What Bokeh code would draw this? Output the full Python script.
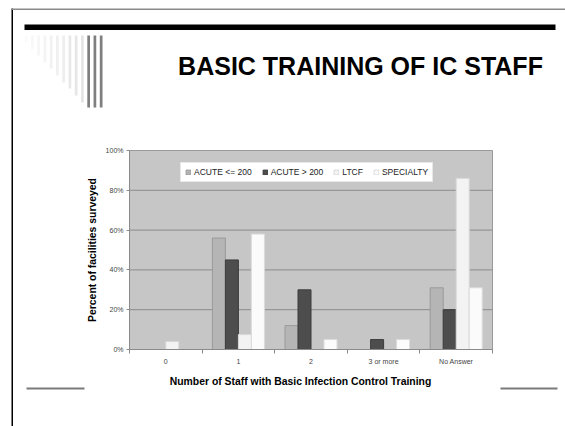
from bokeh.plotting import figure
from bokeh.models import (Range1d, FixedTicker, Legend, LegendItem, ColumnDataSource,
                          Label, PrintfTickFormatter)
from bokeh.transform import dodge
from bokeh.embed import file_html
from bokeh.resources import INLINE

# ---------------- data ----------------
categories = ["0", "1", "2", "3 or more", "No Answer"]
series_names = ["ACUTE <= 200", "ACUTE > 200", "LTCF", "SPECIALTY"]
acute_le_200 = [0, 56, 12, 0, 31]
acute_gt_200 = [0, 45, 30, 5, 20]
ltcf = [4, 7.5, 0, 0, 86]
specialty = [0, 58, 5, 5, 31]
y_ticks = [0, 20, 40, 60, 80, 100]

title_text = "BASIC TRAINING OF IC STAFF"
x_title = "Number of Staff with Basic Infection Control Training"
y_title = "Percent of facilities surveyed"

# ---------------- styles / layout ----------------
FONT = "Liberation Sans"
fills = ["#b5b5b5", "#4d4d4d", "#f3f3f3", "#fbfbfb"]
lines = ["#9a9a9a", "#3c3c3c", "#d8d8d8", "#dcdcdc"]
BAR_W = 0.179
offsets = [-1.5 * BAR_W, -0.5 * BAR_W, 0.5 * BAR_W, 1.5 * BAR_W]

W, H = 565, 426
# plot-area box on the canvas (pixels)
PL, PR, PT, PB = 129, 492, 150, 349
Y_MAX = 100

n = len(categories)
ux = (PR - PL) / n          # px per category
uy = (PB - PT) / Y_MAX      # px per percent
x_range = Range1d(-PL / ux, (W - PL) / ux)
y_range = Range1d(-(H - PB) / uy, Y_MAX + PT / uy)

p = figure(width=W, height=H, x_range=x_range, y_range=y_range,
           output_backend="svg", toolbar_location=None, min_border=0)
p.extra_x_ranges = {"px": Range1d(0, W)}
p.extra_y_ranges = {"px": Range1d(H, 0)}
p.background_fill_color = "white"
p.border_fill_color = "white"
p.outline_line_color = None
p.grid.visible = False


def deco(l, r, t, b, color):
    p.quad(left=l, right=r, top=t, bottom=b, fill_color=color, line_color=None,
           x_range_name="px", y_range_name="px")


# slide decorations (pixel positions)
deco([11], [12.5], [8], [H], "black")            # left border
deco([11], [W], [8], [9.5], "#8a8a8a")           # top border
deco([24], [555], [24], [29.5], "black")         # thick rule
stripe_bottoms = [42, 49, 55, 62, 68, 75, 82, 88, 95, 102, 107, 107, 107]
stripe_colors = ["#fafafa", "#f8f8f8", "#f6f6f6", "#f4f4f4", "#f2f2f2", "#f0f0f0",
                 "#eeeeee", "#e8e8e8", "#e6e6e6", "#e4e4e4", "#7f7f7f", "#7f7f7f", "#7f7f7f"]
s_left = [24.3 + 6.25 * i for i in range(len(stripe_bottoms))]
deco(s_left, [x + 2.7 for x in s_left], [35] * len(s_left), stripe_bottoms, stripe_colors)
deco([26, 500], [84, 557], [387, 387], [389, 389], "#7a7a7a")   # bottom rules

p.add_layout(Label(x=360, y=65, x_range_name="px", y_range_name="px",
                   text=title_text, text_align="center", text_baseline="alphabetic",
                   text_font=FONT, text_font_style="bold", text_font_size="25px",
                   text_color="black"))

# ---------------- chart ----------------
pos = [i + 0.5 for i in range(n)]
src = ColumnDataSource(dict(pos=pos, a=acute_le_200, b=acute_gt_200, c=ltcf, d=specialty))

# plot area + gridlines
p.quad(left=[0], right=[n], bottom=[0], top=[Y_MAX], fill_color="#c6c6c6",
       line_color="#9a9a9a", line_width=1)
grid_vals = y_ticks[1:-1]
p.segment(x0=[0] * len(grid_vals), x1=[n] * len(grid_vals), y0=grid_vals, y1=grid_vals,
          line_color="#8c8c8c", line_width=1)

renderers = []
for key, off, fc, lc in zip(["a", "b", "c", "d"], offsets, fills, lines):
    r = p.vbar(x=dodge("pos", off, range=p.x_range), top=key, width=BAR_W, source=src,
               fill_color=fc, line_color=lc, line_width=1)
    renderers.append(r)

xa = p.xaxis[0]
xa.fixed_location = 0
xa.bounds = (0, n)
xa.ticker = FixedTicker(ticks=pos, minor_ticks=list(range(n + 1)))
xa.major_label_overrides = {pv: c for pv, c in zip(pos, categories)}
xa.major_tick_line_color = None
xa.major_tick_out = 4
xa.major_tick_in = 0
xa.minor_tick_out = 4
xa.minor_tick_in = 0
xa.minor_tick_line_color = "#8a8a8a"
xa.axis_line_color = "#8a8a8a"
xa.major_label_standoff = 4
xa.major_label_text_font = FONT
xa.major_label_text_font_size = "7px"
xa.major_label_text_color = "#444444"

# x-axis title (centred on the whole chart object, as in the source slide)
p.add_layout(Label(x=300, y=381, x_range_name="px", y_range_name="px",
                   text=x_title, text_align="center", text_baseline="alphabetic",
                   text_font=FONT, text_font_style="bold", text_font_size="10.4px",
                   text_color="black"))

ya = p.yaxis[0]
ya.fixed_location = 0
ya.bounds = (0, Y_MAX)
ya.ticker = FixedTicker(ticks=y_ticks, minor_ticks=[])
ya.formatter = PrintfTickFormatter(format="%d%%")
ya.major_tick_out = 3
ya.major_tick_in = 0
ya.major_tick_line_color = "#8a8a8a"
ya.axis_line_color = "#8a8a8a"
ya.major_label_standoff = 3
ya.major_label_text_font = FONT
ya.major_label_text_font_size = "7px"
ya.major_label_text_color = "#444444"
ya.axis_label = y_title
ya.axis_label_text_font = FONT
ya.axis_label_text_font_style = "bold"
ya.axis_label_text_font_size = "10.4px"
ya.axis_label_text_color = "black"
ya.axis_label_standoff = 5

legend = Legend(items=[LegendItem(label=nm, renderers=[r]) for nm, r in zip(series_names, renderers)],
                location=(PL + 51, H - 182), orientation="horizontal",
                background_fill_color="white", background_fill_alpha=1,
                border_line_color="#d0d0d0", label_text_font=FONT,
                label_text_font_size="8.5px", label_text_color="#222222",
                glyph_width=6, glyph_height=6, label_standoff=3, spacing=10,
                padding=4, margin=0, label_height=8)
p.add_layout(legend)

open("out.html", "w").write(file_html(p, INLINE))
